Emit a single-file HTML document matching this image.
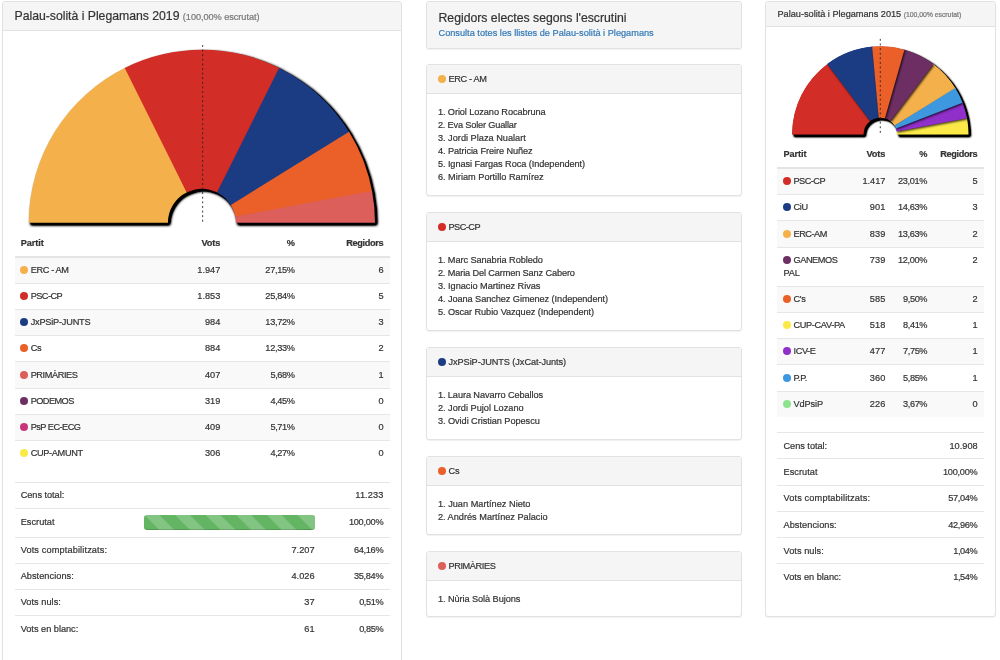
<!DOCTYPE html><html lang="ca"><head><meta charset="utf-8"><title>Palau-solità i Plegamans 2019</title><style>
*{box-sizing:border-box}
html,body{margin:0;padding:0}
body{width:1000px;height:660px;overflow:hidden;position:relative;background:#fff;color:#333;
 font-family:"Liberation Sans",sans-serif;font-size:9.2px;line-height:13.13px;-webkit-text-stroke:0.2px currentColor}
span{white-space:nowrap}
.panel{position:absolute;background:#fff;border:1px solid #e2e2e2;border-radius:3px;box-shadow:0 1px 1px rgba(0,0,0,.06)}
.ph{background:#f5f5f5;border-bottom:1px solid #e2e2e2;border-radius:2px 2px 0 0;padding:0 11.5px;white-space:nowrap;overflow:hidden}
.phs{height:28.5px;padding-top:7.6px}
h3{margin:0;font-weight:normal;font-size:12.26px;line-height:13.5px}
h3 small{font-size:9.2px;color:#777}
.pb{padding:12.25px 11.5px 0 10.9px}
.dot{display:inline-block;width:8px;height:8px;border-radius:50%;vertical-align:-1px;margin:0 2.5px 0 -0.5px}
ol{list-style:none;margin:0;padding:0}
a{color:#337ab7;text-decoration:none}
.chart{position:absolute;display:block;overflow:visible}
table{position:absolute;border-collapse:separate;border-spacing:0;table-layout:fixed}
th,td{text-align:right;vertical-align:top;font-weight:normal}
.tb th{font-weight:bold;height:26.9px;padding:0 6.13px 5.3px;border-bottom:2px solid #e4e4e4;vertical-align:bottom}
.tb td,.sm td{height:26.25px;padding:6.3px 6.13px 0;border-top:1px solid #e6e6e6}
.tb tbody tr:first-child td{border-top:0;height:25.1px;padding-top:6.05px}
.l{text-align:left;white-space:nowrap}
.tb tbody tr:nth-child(odd){background:#f9f9f9}
.prog{height:15.3px;margin-top:-0.8px;border-radius:3px;background-color:#63b563;
 background-image:linear-gradient(45deg,rgba(255,255,255,.2) 25%,transparent 25%,transparent 50%,rgba(255,255,255,.2) 50%,rgba(255,255,255,.2) 75%,transparent 75%,transparent);
 background-size:30.6px 30.6px;box-shadow:inset 0 -1px 0 rgba(0,0,0,.15)}
.tl{left:14.5px;top:230.7px;width:375.2px}
.tl th:nth-child(1){width:154px}.tl th:nth-child(2){width:58px}.tl th:nth-child(3){width:74.5px}
.sl{left:14.5px;top:482px;width:375.2px}
.sl td:nth-child(1){width:123px}.sl td:nth-child(2){width:183.2px}
.sl tr.pr td{height:28.3px}
.tr th{padding-bottom:6.1px}
.tr{left:777.4px;top:142.15px;width:206.4px}
.tr th:nth-child(1){width:78.9px}.tr th:nth-child(2){width:35.2px}.tr th:nth-child(3){width:42.2px}
.tr tr.two td{height:38.9px}
.sr{left:777.4px;top:432px;width:206.4px}
.sr td{padding-top:6.9px}
</style></head><body>
<div class="panel" style="left:2px;top:1px;width:400px;height:680px;border-radius:3px 3px 0 0">
<div class="ph" style="height:29px;padding-top:8.3px"><h3><span style="letter-spacing:-0.019px;margin-right:0.019px">Palau-solità i Plegamans 2019</span> <small><span style="letter-spacing:-0.057px;margin-right:0.057px">(100,00% escrutat)</span></small></h3></div>
</div>
<svg class="chart" style="left:14.5px;top:42.5px" width="375.2" height="188.3" viewBox="0 0 375.2 188.3"><defs><filter id="fa" x="-5%" y="-5%" width="112%" height="115%" color-interpolation-filters="sRGB"><feGaussianBlur in="SourceAlpha" stdDeviation="1.4" result="g"/><feOffset in="g" dx="2.4" dy="2.4" result="o"/><feComponentTransfer in="o" result="b"><feFuncA type="linear" slope="2.5"/></feComponentTransfer><feMerge><feMergeNode in="b"/><feMergeNode in="SourceGraphic"/></feMerge></filter></defs><g filter="url(#fa)"><path d="M13.80 179.85A173.10 173.10 0 0 1 111.10 24.23L172.01 149.28A34.00 34.00 0 0 0 152.90 179.85Z" fill="#f4b14b"/><path d="M109.74 24.90A173.10 173.10 0 0 1 265.41 25.58L202.32 149.55A34.00 34.00 0 0 0 171.74 149.41Z" fill="#d32d27"/><path d="M264.06 24.90A173.10 173.10 0 0 1 334.86 90.01L215.96 162.20A34.00 34.00 0 0 0 202.06 149.41Z" fill="#1b3b82"/><path d="M334.07 88.72A173.10 173.10 0 0 1 357.32 149.53L220.37 173.89A34.00 34.00 0 0 0 215.81 161.95Z" fill="#ea6028"/><path d="M357.05 148.04A173.10 173.10 0 0 1 360.00 179.85L220.90 179.85A34.00 34.00 0 0 0 220.32 173.60Z" fill="#dc5f5b"/></g><line x1="187.65" y1="2.0" x2="187.65" y2="180.4" stroke="#222" stroke-width="0.9" stroke-dasharray="1.9 2.7"/></svg>
<table class="tb tl"><thead><tr><th class="l"><span style="letter-spacing:-0.078px;margin-right:0.078px">Partit</span></th><th><span style="letter-spacing:-0.105px;margin-right:0.105px">Vots</span></th><th><span>%</span></th><th><span style="letter-spacing:-0.355px;margin-right:0.355px">Regidors</span></th></tr></thead><tbody><tr><td class="l"><i class="dot" style="background:#f4b14b"></i><span style="letter-spacing:-0.357px;margin-right:0.357px">ERC - AM</span></td><td><span style="letter-spacing:0.016px">1.947</span></td><td><span style="letter-spacing:-0.328px;margin-right:0.328px">27,15%</span></td><td><span>6</span></td></tr><tr><td class="l"><i class="dot" style="background:#d32d27"></i><span style="letter-spacing:-0.529px;margin-right:0.529px">PSC-CP</span></td><td><span style="letter-spacing:0.016px">1.853</span></td><td><span style="letter-spacing:-0.328px;margin-right:0.328px">25,84%</span></td><td><span>5</span></td></tr><tr><td class="l"><i class="dot" style="background:#1b3b82"></i><span style="letter-spacing:-0.210px;margin-right:0.210px">JxPSiP-JUNTS</span></td><td><span style="letter-spacing:0.052px">984</span></td><td><span style="letter-spacing:-0.328px;margin-right:0.328px">13,72%</span></td><td><span>3</span></td></tr><tr><td class="l"><i class="dot" style="background:#ea6028"></i><span style="letter-spacing:-0.250px;margin-right:0.250px">Cs</span></td><td><span style="letter-spacing:0.052px">884</span></td><td><span style="letter-spacing:-0.328px;margin-right:0.328px">12,33%</span></td><td><span>2</span></td></tr><tr><td class="l"><i class="dot" style="background:#dc5f5b"></i><span style="letter-spacing:-0.406px;margin-right:0.406px">PRIMÀRIES</span></td><td><span style="letter-spacing:0.052px">407</span></td><td><span style="letter-spacing:-0.406px;margin-right:0.406px">5,68%</span></td><td><span>1</span></td></tr><tr><td class="l"><i class="dot" style="background:#6d2f63"></i><span style="letter-spacing:-0.542px;margin-right:0.542px">PODEMOS</span></td><td><span style="letter-spacing:0.052px">319</span></td><td><span style="letter-spacing:-0.406px;margin-right:0.406px">4,45%</span></td><td><span>0</span></td></tr><tr><td class="l"><i class="dot" style="background:#c9357a"></i><span style="letter-spacing:-0.514px;margin-right:0.514px">PsP EC-ECG</span></td><td><span style="letter-spacing:0.052px">409</span></td><td><span style="letter-spacing:-0.406px;margin-right:0.406px">5,71%</span></td><td><span>0</span></td></tr><tr><td class="l"><i class="dot" style="background:#fbe948"></i><span style="letter-spacing:-0.330px;margin-right:0.330px">CUP-AMUNT</span></td><td><span style="letter-spacing:0.052px">306</span></td><td><span style="letter-spacing:-0.406px;margin-right:0.406px">4,27%</span></td><td><span>0</span></td></tr></tbody></table>
<table class="sm sl"><tbody>
<tr><td class="l"><span style="letter-spacing:-0.031px;margin-right:0.031px">Cens total:</span></td><td></td><td><span style="letter-spacing:0.138px">11.233</span></td></tr>
<tr class="pr"><td class="l"><span style="letter-spacing:0.033px">Escrutat</span></td><td><div class="prog"></div></td><td><span style="letter-spacing:-0.275px;margin-right:0.275px">100,00%</span></td></tr>
<tr><td class="l"><span style="letter-spacing:0.135px">Vots comptabilitzats:</span></td><td><span style="letter-spacing:0.016px">7.207</span></td><td><span style="letter-spacing:-0.328px;margin-right:0.328px">64,16%</span></td></tr>
<tr><td class="l"><span style="letter-spacing:0.047px">Abstencions:</span></td><td><span style="letter-spacing:0.016px">4.026</span></td><td><span style="letter-spacing:-0.328px;margin-right:0.328px">35,84%</span></td></tr>
<tr><td class="l"><span style="letter-spacing:0.041px">Vots nuls:</span></td><td><span style="letter-spacing:0.047px">37</span></td><td><span style="letter-spacing:-0.406px;margin-right:0.406px">0,51%</span></td></tr>
<tr><td class="l"><span style="letter-spacing:-0.006px;margin-right:0.006px">Vots en blanc:</span></td><td><span style="letter-spacing:0.047px">61</span></td><td><span style="letter-spacing:-0.406px;margin-right:0.406px">0,85%</span></td></tr>
</tbody></table>
<div class="panel" style="left:426px;top:1px;width:316px;height:48px">
<div class="ph" style="height:46px;border-bottom:0;border-radius:2px;padding-top:9.4px"><h3 style="line-height:14.6px"><span style="letter-spacing:-0.007px;margin-right:0.007px">Regidors electes segons l'escrutini</span></h3><a style="position:relative;top:0.9px"><span style="letter-spacing:0.004px">Consulta totes les llistes de Palau-solità i Plegamans</span></a></div></div>
<div class="panel" style="left:426px;top:64px;width:316px;height:132px"><div class="ph phs"><i class="dot" style="background:#f4b14b"></i><span style="letter-spacing:-0.357px;margin-right:0.357px">ERC - AM</span></div><div class="pb"><ol><li><span style="letter-spacing:-0.086px;margin-right:0.086px">1. Oriol Lozano Rocabruna</span></li><li><span style="letter-spacing:-0.174px;margin-right:0.174px">2. Eva Soler Guallar</span></li><li><span style="letter-spacing:0.005px">3. Jordi Plaza Nualart</span></li><li><span style="letter-spacing:-0.076px;margin-right:0.076px">4. Patricia Freire Nuñez</span></li><li><span style="letter-spacing:-0.071px;margin-right:0.071px">5. Ignasi Fargas Roca (Independent)</span></li><li><span style="letter-spacing:0.004px">6. Miriam Portillo Ramírez</span></li></ol></div></div>
<div class="panel" style="left:426px;top:212px;width:316px;height:119px"><div class="ph phs"><i class="dot" style="background:#d32d27"></i><span style="letter-spacing:-0.529px;margin-right:0.529px">PSC-CP</span></div><div class="pb"><ol><li><span style="letter-spacing:-0.077px;margin-right:0.077px">1. Marc Sanabria Robledo</span></li><li><span style="letter-spacing:-0.129px;margin-right:0.129px">2. Maria Del Carmen Sanz Cabero</span></li><li><span style="letter-spacing:-0.024px;margin-right:0.024px">3. Ignacio Martinez Rivas</span></li><li><span style="letter-spacing:-0.068px;margin-right:0.068px">4. Joana Sanchez Gimenez (Independent)</span></li><li><span style="letter-spacing:-0.072px;margin-right:0.072px">5. Oscar Rubio Vazquez (Independent)</span></li></ol></div></div>
<div class="panel" style="left:426px;top:347px;width:316px;height:93px"><div class="ph phs"><i class="dot" style="background:#1b3b82"></i><span style="letter-spacing:-0.075px;margin-right:0.075px">JxPSiP-JUNTS (JxCat-Junts)</span></div><div class="pb"><ol><li><span style="letter-spacing:-0.087px;margin-right:0.087px">1. Laura Navarro Ceballos</span></li><li><span style="letter-spacing:-0.005px;margin-right:0.005px">2. Jordi Pujol Lozano</span></li><li><span style="letter-spacing:-0.052px;margin-right:0.052px">3. Ovidi Cristian Popescu</span></li></ol></div></div>
<div class="panel" style="left:426px;top:456px;width:316px;height:79px"><div class="ph phs"><i class="dot" style="background:#ea6028"></i><span style="letter-spacing:-0.250px;margin-right:0.250px">Cs</span></div><div class="pb"><ol><li><span style="letter-spacing:0.007px">1. Juan Martínez Nieto</span></li><li><span style="letter-spacing:-0.003px;margin-right:0.003px">2. Andrés Martínez Palacio</span></li></ol></div></div>
<div class="panel" style="left:426px;top:551px;width:316px;height:66px"><div class="ph phs"><i class="dot" style="background:#dc5f5b"></i><span style="letter-spacing:-0.406px;margin-right:0.406px">PRIMÀRIES</span></div><div class="pb"><ol><li><span style="letter-spacing:-0.070px;margin-right:0.070px">1. Nùria Solà Bujons</span></li></ol></div></div>
<div class="panel" style="left:765px;top:1px;width:231px;height:616px">
<div class="ph" style="height:24.6px;padding-top:6.5px"><h3 style="font-size:9.2px;line-height:11px"><span style="letter-spacing:-0.015px;margin-right:0.015px">Palau-solità i Plegamans 2015</span> <small style="font-size:6.9px"><span style="letter-spacing:-0.043px;margin-right:0.043px">(100,00% escrutat)</span></small></h3></div>
</div>
<svg class="chart" style="left:777.4px;top:38.3px" width="206.4" height="103.3" viewBox="0 0 206.4 103.3"><defs><filter id="fb" x="-5%" y="-5%" width="112%" height="115%" color-interpolation-filters="sRGB"><feGaussianBlur in="SourceAlpha" stdDeviation="1.3" result="g"/><feOffset in="g" dx="2.0" dy="2.0" result="o"/><feComponentTransfer in="o" result="b"><feFuncA type="linear" slope="2.5"/></feComponentTransfer><feMerge><feMergeNode in="b"/><feMergeNode in="SourceGraphic"/></feMerge></filter></defs><g filter="url(#fb)"><path d="M15.10 96.50A88.20 88.20 0 0 1 50.76 25.65L93.29 83.01A16.80 16.80 0 0 0 86.50 96.50Z" fill="#d32d27"/><path d="M50.15 26.11A88.20 88.20 0 0 1 95.93 8.61L101.90 79.76A16.80 16.80 0 0 0 93.18 83.09Z" fill="#1b3b82"/><path d="M155.84 25.65A88.20 88.20 0 0 1 178.69 50.72L117.66 87.78A16.80 16.80 0 0 0 113.31 83.01Z" fill="#f4b14b"/><path d="M126.70 11.46A88.20 88.20 0 0 1 156.45 26.11L113.42 83.09A16.80 16.80 0 0 0 107.76 80.30Z" fill="#6d2f63"/><path d="M95.16 8.68A88.20 88.20 0 0 1 127.44 11.67L107.90 80.34A16.80 16.80 0 0 0 101.75 79.77Z" fill="#ea6028"/><path d="M189.85 79.54A88.20 88.20 0 0 1 191.50 96.50L120.10 96.50A16.80 16.80 0 0 0 119.79 93.27Z" fill="#fbe948"/><path d="M185.26 63.92A88.20 88.20 0 0 1 190.00 80.29L119.81 93.41A16.80 16.80 0 0 0 118.91 90.29Z" fill="#902fc9"/><path d="M178.29 50.07A88.20 88.20 0 0 1 185.54 64.64L118.97 90.43A16.80 16.80 0 0 0 117.58 87.66Z" fill="#3d98df"/></g><clipPath id="fbc"><path d="M15.10 96.50A88.20 88.20 0 0 1 191.50 96.50L120.10 96.50A16.80 16.80 0 0 0 86.50 96.50Z"/></clipPath><g clip-path="url(#fbc)"><path d="M15.10 96.50A88.20 88.20 0 0 1 50.76 25.65L93.29 83.01A16.80 16.80 0 0 0 86.50 96.50Z" fill="#d32d27" style="filter:drop-shadow(1.0px 1.0px 1.0px rgba(0,0,0,.8))"/><path d="M50.15 26.11A88.20 88.20 0 0 1 95.93 8.61L101.90 79.76A16.80 16.80 0 0 0 93.18 83.09Z" fill="#1b3b82" style="filter:drop-shadow(1.0px 1.0px 1.0px rgba(0,0,0,.8))"/><path d="M155.84 25.65A88.20 88.20 0 0 1 178.69 50.72L117.66 87.78A16.80 16.80 0 0 0 113.31 83.01Z" fill="#f4b14b" style="filter:drop-shadow(1.0px 1.0px 1.0px rgba(0,0,0,.8))"/><path d="M126.70 11.46A88.20 88.20 0 0 1 156.45 26.11L113.42 83.09A16.80 16.80 0 0 0 107.76 80.30Z" fill="#6d2f63" style="filter:drop-shadow(1.0px 1.0px 1.0px rgba(0,0,0,.8))"/><path d="M95.16 8.68A88.20 88.20 0 0 1 127.44 11.67L107.90 80.34A16.80 16.80 0 0 0 101.75 79.77Z" fill="#ea6028" style="filter:drop-shadow(1.0px 1.0px 1.0px rgba(0,0,0,.8))"/><path d="M189.85 79.54A88.20 88.20 0 0 1 191.50 96.50L120.10 96.50A16.80 16.80 0 0 0 119.79 93.27Z" fill="#fbe948" style="filter:drop-shadow(1.0px 1.0px 1.0px rgba(0,0,0,.8))"/><path d="M185.26 63.92A88.20 88.20 0 0 1 190.00 80.29L119.81 93.41A16.80 16.80 0 0 0 118.91 90.29Z" fill="#902fc9" style="filter:drop-shadow(1.0px 1.0px 1.0px rgba(0,0,0,.8))"/><path d="M178.29 50.07A88.20 88.20 0 0 1 185.54 64.64L118.97 90.43A16.80 16.80 0 0 0 117.58 87.66Z" fill="#3d98df" style="filter:drop-shadow(1.0px 1.0px 1.0px rgba(0,0,0,.8))"/></g><line x1="103.3" y1="0.9" x2="103.3" y2="96.6" stroke="#222" stroke-width="0.9" stroke-dasharray="1.9 2.7"/></svg>
<table class="tb tr"><thead><tr><th class="l"><span style="letter-spacing:-0.078px;margin-right:0.078px">Partit</span></th><th><span style="letter-spacing:-0.105px;margin-right:0.105px">Vots</span></th><th><span>%</span></th><th><span style="letter-spacing:-0.355px;margin-right:0.355px">Regidors</span></th></tr></thead><tbody><tr><td class="l"><i class="dot" style="background:#d32d27"></i><span style="letter-spacing:-0.529px;margin-right:0.529px">PSC-CP</span></td><td><span style="letter-spacing:0.016px">1.417</span></td><td><span style="letter-spacing:-0.328px;margin-right:0.328px">23,01%</span></td><td><span>5</span></td></tr><tr><td class="l"><i class="dot" style="background:#1b3b82"></i><span style="letter-spacing:-0.380px;margin-right:0.380px">CiU</span></td><td><span style="letter-spacing:0.052px">901</span></td><td><span style="letter-spacing:-0.328px;margin-right:0.328px">14,63%</span></td><td><span>3</span></td></tr><tr><td class="l"><i class="dot" style="background:#f4b14b"></i><span style="letter-spacing:-0.471px;margin-right:0.471px">ERC-AM</span></td><td><span style="letter-spacing:0.052px">839</span></td><td><span style="letter-spacing:-0.328px;margin-right:0.328px">13,63%</span></td><td><span>2</span></td></tr><tr class="two"><td class="l"><i class="dot" style="background:#6d2f63"></i><span style="letter-spacing:-0.449px;margin-right:0.449px">GANEMOS</span><br><span style="letter-spacing:-0.188px;margin-right:0.188px">PAL</span></td><td><span style="letter-spacing:0.052px">739</span></td><td><span style="letter-spacing:-0.328px;margin-right:0.328px">12,00%</span></td><td><span>2</span></td></tr><tr><td class="l"><i class="dot" style="background:#ea6028"></i><span style="letter-spacing:-0.339px;margin-right:0.339px">C's</span></td><td><span style="letter-spacing:0.052px">585</span></td><td><span style="letter-spacing:-0.406px;margin-right:0.406px">9,50%</span></td><td><span>2</span></td></tr><tr><td class="l"><i class="dot" style="background:#fbe948"></i><span style="letter-spacing:-0.355px;margin-right:0.355px">CUP-CAV-PA</span></td><td><span style="letter-spacing:0.052px">518</span></td><td><span style="letter-spacing:-0.406px;margin-right:0.406px">8,41%</span></td><td><span>1</span></td></tr><tr><td class="l"><i class="dot" style="background:#902fc9"></i><span style="letter-spacing:-0.412px;margin-right:0.412px">ICV-E</span></td><td><span style="letter-spacing:0.052px">477</span></td><td><span style="letter-spacing:-0.406px;margin-right:0.406px">7,75%</span></td><td><span>1</span></td></tr><tr><td class="l"><i class="dot" style="background:#3d98df"></i><span style="letter-spacing:-0.367px;margin-right:0.367px">P.P.</span></td><td><span style="letter-spacing:0.052px">360</span></td><td><span style="letter-spacing:-0.406px;margin-right:0.406px">5,85%</span></td><td><span>1</span></td></tr><tr><td class="l"><i class="dot" style="background:#8ee48e"></i><span style="letter-spacing:-0.122px;margin-right:0.122px">VdPsiP</span></td><td><span style="letter-spacing:0.052px">226</span></td><td><span style="letter-spacing:-0.406px;margin-right:0.406px">3,67%</span></td><td><span>0</span></td></tr></tbody></table>
<table class="sm sr"><tbody>
<tr><td class="l"><span style="letter-spacing:-0.031px;margin-right:0.031px">Cens total:</span></td><td><span style="letter-spacing:0.023px">10.908</span></td></tr>
<tr><td class="l"><span style="letter-spacing:0.033px">Escrutat</span></td><td><span style="letter-spacing:-0.275px;margin-right:0.275px">100,00%</span></td></tr>
<tr><td class="l"><span style="letter-spacing:0.135px">Vots comptabilitzats:</span></td><td><span style="letter-spacing:-0.328px;margin-right:0.328px">57,04%</span></td></tr>
<tr><td class="l"><span style="letter-spacing:0.047px">Abstencions:</span></td><td><span style="letter-spacing:-0.328px;margin-right:0.328px">42,96%</span></td></tr>
<tr><td class="l"><span style="letter-spacing:0.041px">Vots nuls:</span></td><td><span style="letter-spacing:-0.406px;margin-right:0.406px">1,04%</span></td></tr>
<tr><td class="l"><span style="letter-spacing:-0.006px;margin-right:0.006px">Vots en blanc:</span></td><td><span style="letter-spacing:-0.406px;margin-right:0.406px">1,54%</span></td></tr>
</tbody></table>
</body></html>
